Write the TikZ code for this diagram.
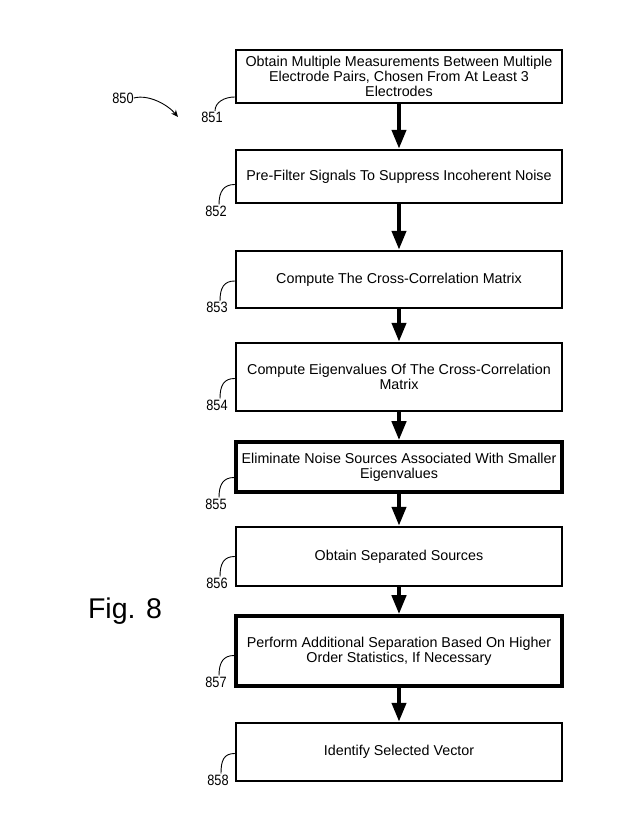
\documentclass[tikz,border=0pt]{standalone}
\usepackage{fontspec}
\setmainfont{Liberation Sans}
\usetikzlibrary{arrows.meta,calc}
\begin{document}
\begin{tikzpicture}[x=1pt,y=-1pt,
  stepbox/.style={draw, line width=2.5pt, rectangle, minimum width=326pt,
    inner sep=0pt, align=center, font=\fontsize{14.3}{15}\selectfont},
  boldbox/.style={stepbox, line width=3.6pt},
  innerdash/.style={line width=2.4pt, dash pattern=on 10pt off 7pt},
  flow/.style={line width=4.2pt, -{Triangle[length=19pt,width=14pt]}},
  reflabel/.style={font=\fontsize{15}{15}\selectfont, inner sep=0pt},
  hook/.style={line width=0.9pt},
]
\useasboundingbox (0,0) rectangle (639,835);

% process steps
\node[stepbox, minimum height=53pt] (b851) at (399,76.5)
  {Obtain Multiple Measurements Between Multiple\\Electrode Pairs, Chosen From At Least 3\\Electrodes};
\node[stepbox, minimum height=53pt] (b852) at (399,176.5)
  {Pre-Filter Signals To Suppress Incoherent Noise};
\node[stepbox, minimum height=57pt] (b853) at (399,279.5)
  {Compute The Cross-Correlation Matrix};
\node[stepbox, minimum height=68pt] (b854) at (399,377)
  {Compute Eigenvalues Of The Cross-Correlation\\Matrix};
\node[boldbox, minimum height=50pt] (b855) at (399,467)
  {Eliminate Noise Sources Associated With Smaller\\Eigenvalues};
\node[stepbox, minimum height=59pt] (b856) at (399,556.5)
  {Obtain Separated Sources};
\node[boldbox, minimum height=70pt] (b857) at (399,651)
  {Perform Additional Separation Based On Higher\\Order Statistics, If Necessary};
\node[stepbox, minimum height=58pt] (b858) at (399,752)
  {Identify Selected Vector};

% broken inner edge of the emphasised steps
\foreach \b in {b855,b857}{
  \draw[innerdash] ([shift={(2.4pt,-2.4pt)}]\b.north west) rectangle ([shift={(-2.4pt,2.4pt)}]\b.south east);
}

% flow arrows
\draw[flow] (b851.south) -- (b852.north);
\draw[flow] (b852.south) -- (b853.north);
\draw[flow] (b853.south) -- (b854.north);
\draw[flow] (b854.south) -- (b855.north);
\draw[flow] (b855.south) -- (b856.north);
\draw[flow] (b856.south) -- (b857.north);
\draw[flow] (b857.south) -- (b858.north);

% reference numerals with lead lines
\node[reflabel] (l851) at (212,117.5) {\scalebox{0.85}[1]{851}};
\node[reflabel] (l852) at (216,211) {\scalebox{0.85}[1]{852}};
\node[reflabel] (l853) at (217,307.5) {\scalebox{0.85}[1]{853}};
\node[reflabel] (l854) at (217,405) {\scalebox{0.85}[1]{854}};
\node[reflabel] (l855) at (216,504) {\scalebox{0.85}[1]{855}};
\node[reflabel] (l856) at (217,583) {\scalebox{0.85}[1]{856}};
\node[reflabel] (l857) at (216,682) {\scalebox{0.85}[1]{857}};
\node[reflabel] (l858) at (218,780) {\scalebox{0.85}[1]{858}};

\draw[hook] ([xshift=3pt,yshift=1pt]l851.north) .. controls +(0,-9) and +(-10,0) .. ($(b851.west |- l851.north)+(0,-15)$);
\foreach \n in {852,853,854,855,856,857,858}{
  \draw[hook] ([xshift=3pt,yshift=1pt]l\n.north) .. controls +(0,-13) and +(-11,0) .. ($(b\n.west |- l\n.north)+(0,-21)$);
}

% figure reference
\node[reflabel] (r850) at (123,98) {\scalebox{0.85}[1]{850}};
\coordinate (t850) at (178,117);
\draw[line width=0.9pt, -{Stealth[length=7pt,width=6pt]}] (r850.east) .. controls +(15,-4) and +(-10,-12) .. (t850);

\node[font=\fontsize{28.5}{30}\selectfont, inner sep=0pt] (fig) at (125,611) {Fig. 8};
\end{tikzpicture}
\end{document}
